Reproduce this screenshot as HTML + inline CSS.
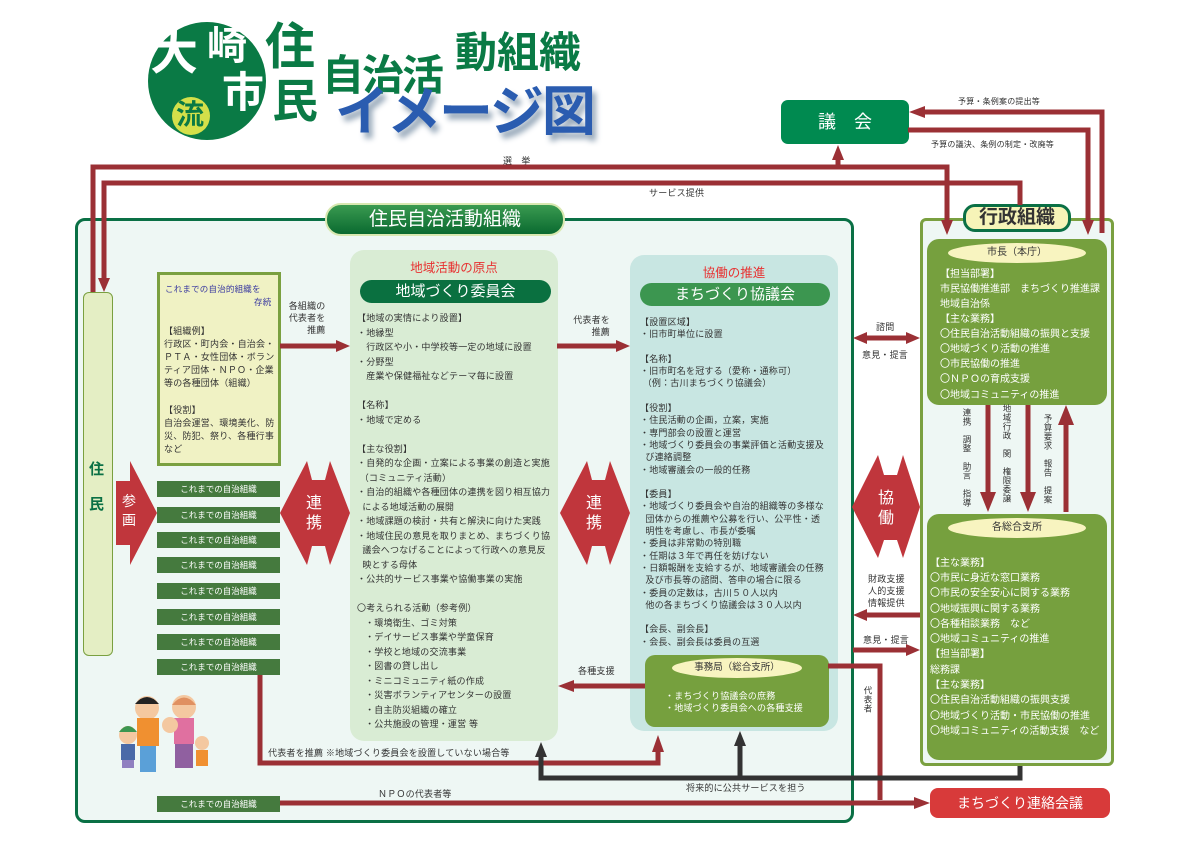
<!DOCTYPE html>
<html><head><meta charset="utf-8">
<style>
*{margin:0;padding:0;box-sizing:border-box}
body{width:1191px;height:842px;background:#fff;position:relative;overflow:hidden;font-family:"Liberation Sans","Noto Sans CJK JP",sans-serif;color:#333}
.a{position:absolute}
.t9{font-size:9px;letter-spacing:.2px;white-space:nowrap}
.bar{position:absolute;left:157px;width:123px;height:16px;background:#457a3e;color:#fff;font-size:8.5px;text-align:center;line-height:16px;white-space:nowrap}
.ln{position:absolute;white-space:nowrap;font-size:9px;letter-spacing:.2px;color:#333}
.w{color:#fff;font-size:10px;position:absolute;white-space:nowrap}
.v{writing-mode:vertical-rl;font-size:8.5px;position:absolute;color:#333;letter-spacing:.5px}
</style></head><body>

<!-- title -->
<div class="a" style="left:148px;top:22px;width:118px;height:118px;border-radius:50%;background:#0a7a45"></div>
<div class="a" style="left:150px;top:30px;font-size:48px;font-weight:bold;color:#fff;line-height:1">大</div>
<div class="a" style="left:207px;top:26px;font-size:40px;font-weight:bold;color:#fff;line-height:1">崎</div>
<div class="a" style="left:222px;top:72px;font-size:42px;font-weight:bold;color:#fff;line-height:1">市</div>
<div class="a" style="left:172px;top:97px;width:38px;height:38px;border-radius:50%;background:#d4e04a"></div>
<div class="a" style="left:176px;top:101px;font-size:28px;font-weight:bold;color:#0a7a45;line-height:1">流</div>
<div class="a" style="left:265px;top:22px;font-size:50px;font-weight:bold;color:#0a7a45;line-height:1">住</div>
<div class="a" style="left:272px;top:78px;font-size:46px;font-weight:bold;color:#0a7a45;line-height:1">民</div>
<div class="a" style="left:322px;top:55px;font-size:42px;font-weight:bold;color:#0a7a45;line-height:1;letter-spacing:-2px">自治活</div>
<div class="a" style="left:455px;top:32px;font-size:42px;font-weight:bold;color:#0a7a45;line-height:1;letter-spacing:0px">動組織</div>
<div class="a" style="left:335px;top:85px;font-size:54px;font-weight:bold;color:#2a5cb0;line-height:1;letter-spacing:-2px;text-shadow:4px 6px 6px #9ab">イメージ図</div>

<!-- main container -->
<div class="a" style="left:75px;top:218px;width:779px;height:605px;border:3px solid #0a7045;border-radius:10px;background:#eef7f4"></div>
<div class="a" style="left:325px;top:203px;width:240px;height:33px;border-radius:16px;background:linear-gradient(#3a9a50,#0a6a30);border:2px solid #d8e8b0;color:#fff;font-size:19px;text-align:center;line-height:29px">住民自治活動組織</div>

<!-- right container -->
<div class="a" style="left:920px;top:218px;width:194px;height:548px;border:3px solid #7aa040;border-radius:6px;background:#eef7f4"></div>
<div class="a" style="left:963px;top:204px;width:108px;height:28px;border-radius:12px;background:#f6f4b8;border:3px solid #0a7045;color:#333;font-size:19px;font-weight:bold;text-align:center;line-height:22px">行政組織</div>
<div class="a" style="left:927px;top:239px;width:180px;height:166px;border-radius:12px;background:#76a03e"></div>
<div class="a" style="left:948px;top:243px;width:138px;height:20px;border-radius:50%;background:#f8f4c0;font-size:10px;text-align:center;line-height:20px">市長（本庁）</div>
<div class="w" style="left:940px;top:265px">【担当部署】</div>
<div class="w" style="left:940px;top:280px">市民協働推進部　まちづくり推進課</div>
<div class="w" style="left:940px;top:295px">地域自治係</div>
<div class="w" style="left:940px;top:310px">【主な業務】</div>
<div class="w" style="left:940px;top:325px">〇住民自治活動組織の振興と支援</div>
<div class="w" style="left:940px;top:340px">〇地域づくり活動の推進</div>
<div class="w" style="left:940px;top:355px">〇市民協働の推進</div>
<div class="w" style="left:940px;top:370px">〇ＮＰＯの育成支援</div>
<div class="w" style="left:940px;top:386px">〇地域コミュニティの推進</div>

<div class="a" style="left:927px;top:514px;width:180px;height:246px;border-radius:12px;background:#76a03e"></div>
<div class="a" style="left:948px;top:518px;width:138px;height:20px;border-radius:50%;background:#f8f4c0;font-size:10px;text-align:center;line-height:20px">各総合支所</div>
<div class="w" style="left:930px;top:554px">【主な業務】</div>
<div class="w" style="left:930px;top:569px">〇市民に身近な窓口業務</div>
<div class="w" style="left:930px;top:584px">〇市民の安全安心に関する業務</div>
<div class="w" style="left:930px;top:600px">〇地域振興に関する業務</div>
<div class="w" style="left:930px;top:615px">〇各種相談業務　など</div>
<div class="w" style="left:930px;top:630px">〇地域コミュニティの推進</div>
<div class="w" style="left:930px;top:645px">【担当部署】</div>
<div class="w" style="left:930px;top:661px">総務課</div>
<div class="w" style="left:930px;top:676px">【主な業務】</div>
<div class="w" style="left:930px;top:691px">〇住民自治活動組織の振興支援</div>
<div class="w" style="left:930px;top:707px">〇地域づくり活動・市民協働の推進</div>
<div class="w" style="left:930px;top:722px">〇地域コミュニティの活動支援　など</div>

<div class="v" style="left:961px;top:408px">連携　調整　助言　指導</div>
<div class="v" style="left:1001px;top:404px">地域行政　関　権限委譲</div>
<div class="v" style="left:1042px;top:414px">予算要求　報告　提案</div>

<!-- 議会 -->
<div class="a" style="left:781px;top:100px;width:128px;height:44px;border-radius:7px;background:#008a50;color:#fff;font-size:18px;text-align:center;line-height:44px;letter-spacing:18px;padding-left:18px">議会</div>
<div class="a t9" style="left:958px;top:96px;font-size:8px">予算・条例案の提出等</div>
<div class="a t9" style="left:931px;top:139px;font-size:8px">予算の議決、条例の制定・改廃等</div>
<div class="a t9" style="left:503px;top:154px">選　挙</div>
<div class="a t9" style="left:649px;top:186px">サービス提供</div>

<!-- 住民 column -->
<div class="a" style="left:83px;top:292px;width:30px;height:364px;border-radius:6px;background:#e4eec4;border:1px solid #7aa040"></div>
<div class="a" style="left:89px;top:458px;font-size:15px;font-weight:bold;color:#0a7045">住</div>
<div class="a" style="left:89px;top:493px;font-size:15px;font-weight:bold;color:#0a7045">民</div>

<!-- yellow box -->
<div class="a" style="left:157px;top:272px;width:124px;height:194px;background:#f0f2c4;border:3px solid #7aa040"></div>
<div class="a t9" style="left:165px;top:283px;color:#3a3aa0;font-size:8.5px">これまでの自治的組織を</div>
<div class="a t9" style="left:254px;top:296px;color:#3a3aa0;font-size:8.5px">存続</div>
<div class="ln" style="left:164px;top:324px">【組織例】</div>
<div class="ln" style="left:164px;top:337px">行政区・町内会・自治会・</div>
<div class="ln" style="left:164px;top:350px">ＰＴＡ・女性団体・ボラン</div>
<div class="ln" style="left:164px;top:363px">ティア団体・ＮＰＯ・企業</div>
<div class="ln" style="left:164px;top:376px">等の各種団体（組織）</div>
<div class="ln" style="left:164px;top:403px">【役割】</div>
<div class="ln" style="left:164px;top:416px">自治会運営、環境美化、防</div>
<div class="ln" style="left:164px;top:429px">災、防犯、祭り、各種行事</div>
<div class="ln" style="left:164px;top:442px">など</div>
<div class="a t9" style="left:286px;top:300px;text-align:right;line-height:12px">各組織の<br>&nbsp;代表者を<br>&nbsp;&nbsp;&nbsp;&nbsp;&nbsp;&nbsp;&nbsp;推薦</div>
<div class="a t9" style="left:570px;top:314px;text-align:right;line-height:12px">代表者を<br>&nbsp;&nbsp;&nbsp;&nbsp;&nbsp;&nbsp;&nbsp;&nbsp;推薦</div>

<!-- bars -->
<div class="bar" style="top:481px">これまでの自治組織</div>
<div class="bar" style="top:507px">これまでの自治組織</div>
<div class="bar" style="top:532px">これまでの自治組織</div>
<div class="bar" style="top:557px">これまでの自治組織</div>
<div class="bar" style="top:583px">これまでの自治組織</div>
<div class="bar" style="top:609px">これまでの自治組織</div>
<div class="bar" style="top:634px">これまでの自治組織</div>
<div class="bar" style="top:659px">これまでの自治組織</div>
<div class="bar" style="top:796px">これまでの自治組織</div>

<!-- panel 1 -->
<div class="a" style="left:350px;top:250px;width:208px;height:491px;border-radius:14px;background:#d9ecd4"></div>
<div class="a" style="left:350px;top:257px;width:208px;text-align:center;color:#e83030;font-size:12.5px">地域活動の原点</div>
<div class="a" style="left:360px;top:280px;width:191px;height:23px;border-radius:12px;background:#0a7040;color:#fff;font-size:15px;text-align:center;line-height:23px">地域づくり委員会</div>
<div class="ln" style="left:357px;top:311px;line-height:14.5px">【地域の実情により設置】<br>・地縁型<br>　行政区や小・中学校等一定の地域に設置<br>・分野型<br>　産業や保健福祉などテーマ毎に設置<br><br>【名称】<br>・地域で定める<br><br>【主な役割】<br>・自発的な企画・立案による事業の創造と実施<br>&nbsp;（コミュニティ活動）<br>・自治的組織や各種団体の連携を図り相互協力<br>&nbsp;&nbsp;による地域活動の展開<br>・地域課題の検討・共有と解決に向けた実践<br>・地域住民の意見を取りまとめ、まちづくり協<br>&nbsp;&nbsp;議会へつなげることによって行政への意見反<br>&nbsp;&nbsp;映とする母体<br>・公共的サービス事業や協働事業の実施<br><br>〇考えられる活動（参考例）<br>&nbsp;&nbsp;&nbsp;・環境衛生、ゴミ対策<br>&nbsp;&nbsp;&nbsp;・デイサービス事業や学童保育<br>&nbsp;&nbsp;&nbsp;・学校と地域の交流事業<br>&nbsp;&nbsp;&nbsp;・図書の貸し出し<br>&nbsp;&nbsp;&nbsp;・ミニコミュニティ紙の作成<br>&nbsp;&nbsp;&nbsp;・災害ボランティアセンターの設置<br>&nbsp;&nbsp;&nbsp;・自主防災組織の確立<br>&nbsp;&nbsp;&nbsp;・公共施設の管理・運営 等</div>

<!-- panel 2 -->
<div class="a" style="left:630px;top:255px;width:208px;height:476px;border-radius:14px;background:#c8e6e2"></div>
<div class="a" style="left:630px;top:262px;width:208px;text-align:center;color:#e83030;font-size:12.5px">協働の推進</div>
<div class="a" style="left:640px;top:283px;width:190px;height:23px;border-radius:12px;background:#3c9650;color:#fff;font-size:15px;text-align:center;line-height:23px">まちづくり協議会</div>
<div class="ln" style="left:640px;top:316px;line-height:12.3px">【設置区域】<br>・旧市町単位に設置<br><br>【名称】<br>・旧市町名を冠する（愛称・通称可）<br>&nbsp;（例：古川まちづくり協議会）<br><br>【役割】<br>・住民活動の企画，立案，実施<br>・専門部会の設置と運営<br>・地域づくり委員会の事業評価と活動支援及<br>&nbsp;&nbsp;び連絡調整<br>・地域審議会の一般的任務<br><br>【委員】<br>・地域づくり委員会や自治的組織等の多様な<br>&nbsp;&nbsp;団体からの推薦や公募を行い、公平性・透<br>&nbsp;&nbsp;明性を考慮し、市長が委嘱<br>・委員は非常勤の特別職<br>・任期は３年で再任を妨げない<br>・日額報酬を支給するが、地域審議会の任務<br>&nbsp;&nbsp;及び市長等の諮問、答申の場合に限る<br>・委員の定数は，古川５０人以内<br>&nbsp;&nbsp;他の各まちづくり協議会は３０人以内<br><br>【会長、副会長】<br>・会長、副会長は委員の互選</div>

<div class="a" style="left:645px;top:655px;width:184px;height:72px;border-radius:10px;background:#76a03e"></div>
<div class="a" style="left:672px;top:658px;width:130px;height:20px;border-radius:50%;background:#f8f4c0;font-size:9.5px;text-align:center;line-height:20px">事務局（総合支所）</div>
<div class="a t9" style="left:665px;top:690px;color:#fff;line-height:12px">・まちづくり協議会の庶務<br>・地域づくり委員会への各種支援</div>

<!-- labels -->
<div class="a t9" style="left:578px;top:664px">各種支援</div>
<div class="a t9" style="left:268px;top:746px">代表者を推薦 ※地域づくり委員会を設置していない場合等</div>
<div class="a t9" style="left:378px;top:787px">ＮＰＯの代表者等</div>
<div class="a t9" style="left:686px;top:781px">将来的に公共サービスを担う</div>
<div class="a t9" style="left:876px;top:320px">諮問</div>
<div class="a t9" style="left:862px;top:348px">意見・提言</div>
<div class="a t9" style="left:868px;top:573px;line-height:12px;text-align:center">財政支援<br>人的支援<br>情報提供</div>
<div class="a t9" style="left:863px;top:633px">意見・提言</div>
<div class="v" style="left:862px;top:686px">代表者</div>

<div class="a" style="left:930px;top:788px;width:180px;height:30px;border-radius:8px;background:#d83a3a;color:#fff;font-size:14px;text-align:center;line-height:30px">まちづくり連絡会議</div>

<svg class="a" style="left:0;top:0" width="1191" height="842">
<g fill="none" stroke="#9b3035" stroke-width="5">
<polyline points="93,292 93,167 947,167 947,222"/>
<line x1="838" y1="167" x2="838" y2="158"/>
<polyline points="104,280 104,183 1020,183 1020,205"/>
<polyline points="1102,233 1102,112 925,112"/>
<polyline points="908,130 1088,130 1088,222"/>
<line x1="280" y1="346" x2="338" y2="346"/>
<line x1="557" y1="346" x2="618" y2="346"/>
<line x1="866" y1="338" x2="908" y2="338"/>
<line x1="920" y1="615" x2="866" y2="615"/>
<line x1="853" y1="650" x2="908" y2="650"/>
<line x1="645" y1="686" x2="572" y2="686"/>
<polyline points="260,675 260,763 658,763 658,750"/>
<polyline points="828,666 880,666 880,800"/>
<line x1="280" y1="803" x2="915" y2="803"/>
<line x1="988" y1="405" x2="988" y2="495"/>
<line x1="1028" y1="405" x2="1028" y2="495"/>
<line x1="1066" y1="512" x2="1066" y2="422"/>
</g>
<g fill="#9b3035">
<polygon points="947,235 941,220 953,220"/>
<polygon points="838,145 832,160 844,160"/>
<polygon points="104,292 98,278 110,278"/>
<polygon points="909,112 925,106 925,118"/>
<polygon points="1088,235 1082,220 1094,220"/>
<polygon points="350,346 336,340 336,352"/>
<polygon points="630,346 616,340 616,352"/>
<polygon points="853,338 867,332 867,344"/>
<polygon points="920,338 906,332 906,344"/>
<polygon points="853,615 867,609 867,621"/>
<polygon points="920,650 906,644 906,656"/>
<polygon points="558,686 574,680 574,692"/>
<polygon points="658,735 652,752 664,752"/>
<polygon points="930,803 914,797 914,809"/>
<polygon points="988,512 980,492 996,492"/>
<polygon points="1028,512 1020,492 1036,492"/>
<polygon points="1066,405 1058,425 1074,425"/>
</g>
<g fill="none" stroke="#333" stroke-width="5">
<polyline points="541,755 541,778 1020,778 1020,766"/>
<line x1="740" y1="778" x2="740" y2="745"/>
</g>
<g fill="#333">
<polygon points="541,742 535,757 547,757"/>
<polygon points="740,731 734,746 746,746"/>
</g>
<g fill="#c0363c">
<polygon points="116,481 130,481 130,461 157,513 130,565 130,545 116,545"/>
<polygon points="280,513 307,461 312,480 325,480 330,461 350,513 330,565 325,546 312,546 307,565"/>
<polygon points="560,513 587,461 592,480 605,480 610,461 630,513 610,565 605,546 592,546 587,565"/>
<polygon points="852,507 878,455 884,475 897,475 903,455 920,507 903,558 897,540 884,540 878,558"/>
</g>
<g fill="#fff" font-family="Liberation Sans, Noto Sans CJK JP, sans-serif">
<text x="122" y="506" font-size="14">参</text><text x="122" y="525" font-size="14">画</text>
<text x="306" y="508" font-size="16">連</text><text x="306" y="528" font-size="16">携</text>
<text x="586" y="508" font-size="16">連</text><text x="586" y="528" font-size="16">携</text>
<text x="878" y="503" font-size="16">協</text><text x="878" y="523" font-size="16">働</text>
</g>
<!-- family -->
<g>
<circle cx="147" cy="708" r="12" fill="#f4c8a0"/><path d="M135,704 Q147,690 159,704Z" fill="#222"/>
<rect x="137" y="718" width="22" height="28" fill="#f09030"/><rect x="140" y="746" width="16" height="26" fill="#5aa0d8"/>
<circle cx="184" cy="707" r="12" fill="#f4c8a0"/><path d="M172,705 Q184,690 196,705Z" fill="#e09060"/>
<rect x="174" y="718" width="20" height="26" fill="#e070a0"/><rect x="175" y="744" width="18" height="24" fill="#9060a0"/>
<circle cx="170" cy="725" r="8" fill="#f4c8a0"/><circle cx="202" cy="743" r="7" fill="#f4c8a0"/>
<rect x="196" y="750" width="12" height="16" fill="#f09030"/>
<circle cx="128" cy="735" r="9" fill="#f4c8a0"/><path d="M119,732 Q128,720 137,732Z" fill="#3c9650"/>
<rect x="121" y="744" width="14" height="16" fill="#4a6aa8"/><rect x="122" y="760" width="12" height="8" fill="#9080c0"/>
</g>
</svg>
</body></html>
